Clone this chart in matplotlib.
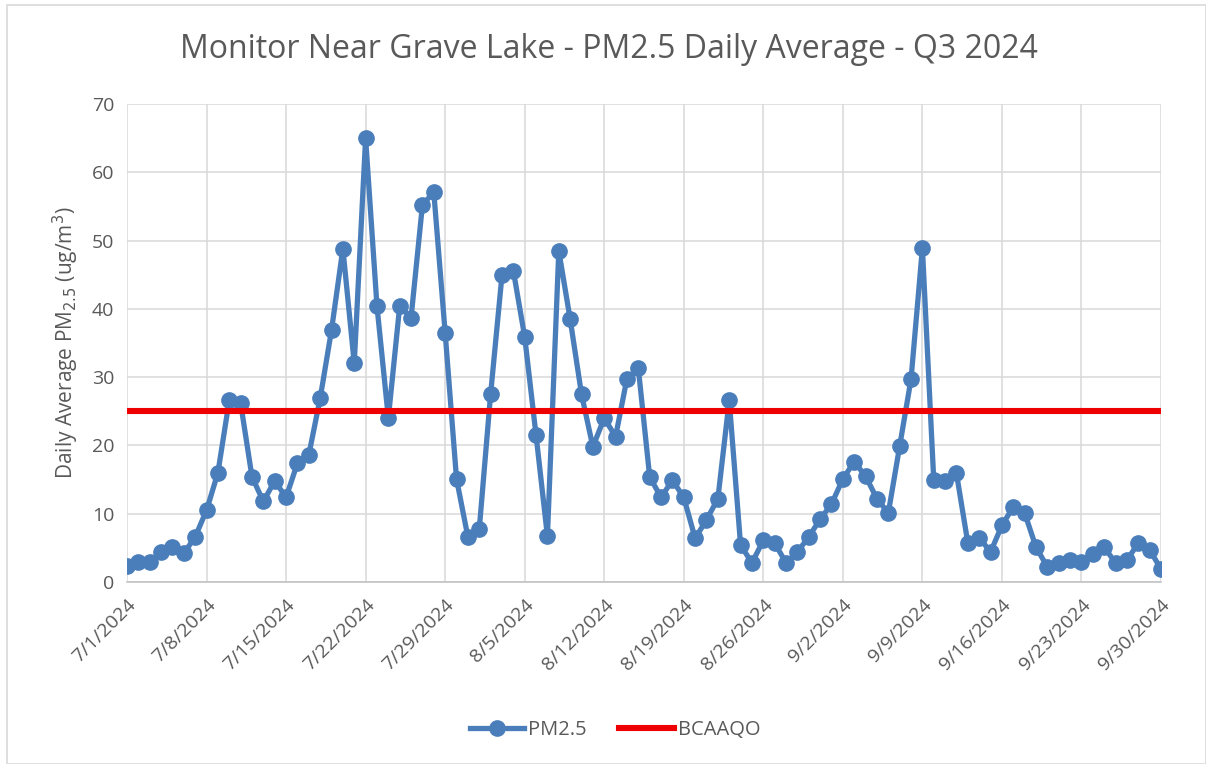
import matplotlib
matplotlib.use('Agg')
import matplotlib.pyplot as plt
import pandas as pd
from matplotlib.patches import Rectangle

# ---------- DATA ----------
start_date = "2024-07-01"
pm25 = [
    2.3, 2.9, 2.9, 4.4, 5.1, 4.2, 6.6, 10.5, 16.0, 26.6,
    26.2, 15.4, 11.8, 14.8, 12.4, 17.4, 18.6, 26.9, 36.9, 48.8,
    32.0, 65.0, 40.4, 24.0, 40.4, 38.7, 55.2, 57.1, 36.5, 15.1,
    6.6, 7.7, 27.5, 44.9, 45.6, 35.9, 21.5, 6.7, 48.5, 38.5,
    27.5, 19.8, 24.0, 21.3, 29.8, 31.3, 15.4, 12.4, 14.9, 12.4,
    6.4, 9.1, 12.2, 26.6, 5.4, 2.8, 6.1, 5.7, 2.8, 4.4,
    6.6, 9.2, 11.4, 15.1, 17.6, 15.5, 12.2, 10.1, 19.9, 29.7,
    48.9, 14.9, 14.8, 15.9, 5.7, 6.5, 4.4, 8.3, 11.0, 10.1,
    5.1, 2.2, 2.8, 3.2, 3.0, 4.1, 5.1, 2.8, 3.2, 5.7,
    4.7, 1.9,
]
bcaaqo = 25
title = "Monitor Near Grave Lake - PM2.5 Daily Average - Q3 2024"

dates = pd.date_range(start_date, periods=len(pm25), freq="D")

# ---------- STYLE ----------
plt.rcParams['font.family'] = ['Open Sans', 'DejaVu Sans']
text_grey = "#595959"
blue = "#4a7ebb"
red = "#ee0000"

fig = plt.figure(figsize=(12.06, 7.64), dpi=100)
fig.patches.append(Rectangle((0.006, 0.0), 0.994, 0.993, transform=fig.transFigure,
                             fill=False, edgecolor="#d9d9d9", linewidth=1.2))

ax = fig.add_axes([0.1053, 0.2382, 0.8574, 0.6257])

ax.plot(dates, pm25, color=blue, linewidth=3.8, marker="o", markersize=11,
        label="PM2.5", zorder=3)
ax.plot(dates, [bcaaqo] * len(dates), color=red, linewidth=4.4,
        label="BCAAQO", zorder=4)

ax.set_xlim(dates[0], dates[-1])
ax.set_ylim(0, 70)
ax.set_yticks(range(0, 71, 10))
ax.set_xticks(dates[::7])
ax.set_xticklabels([f"{d.month}/{d.day}/{d.year}" for d in dates[::7]],
                   rotation=45, ha="right", rotation_mode="anchor")

ax.grid(True, color="#d9d9d9", linewidth=1.1)
ax.set_axisbelow(True)
for s in ["top", "right", "left"]:
    ax.spines[s].set_visible(False)
ax.spines["bottom"].set_color("#bfbfbf")
ax.spines["bottom"].set_linewidth(1.1)
ax.tick_params(axis="both", length=0, colors=text_grey, labelsize=14)
ax.tick_params(axis="x", pad=10)
ax.tick_params(axis="y", pad=9)

ax.set_ylabel("Daily Average PM$_{2.5}$ (ug/m$^3$)", fontsize=15,
              color=text_grey, labelpad=8)
fig.text(0.505, 0.935, title, ha="center", va="center", fontsize=23,
         color=text_grey)

fig.legend(loc="center", bbox_to_anchor=(0.51, 0.045), ncol=2, frameon=False,
           fontsize=14.5, labelcolor=text_grey, handlelength=2.7,
           columnspacing=1.6, handletextpad=0.2)

fig.savefig("out.png", dpi=100)
plt.close(fig)
